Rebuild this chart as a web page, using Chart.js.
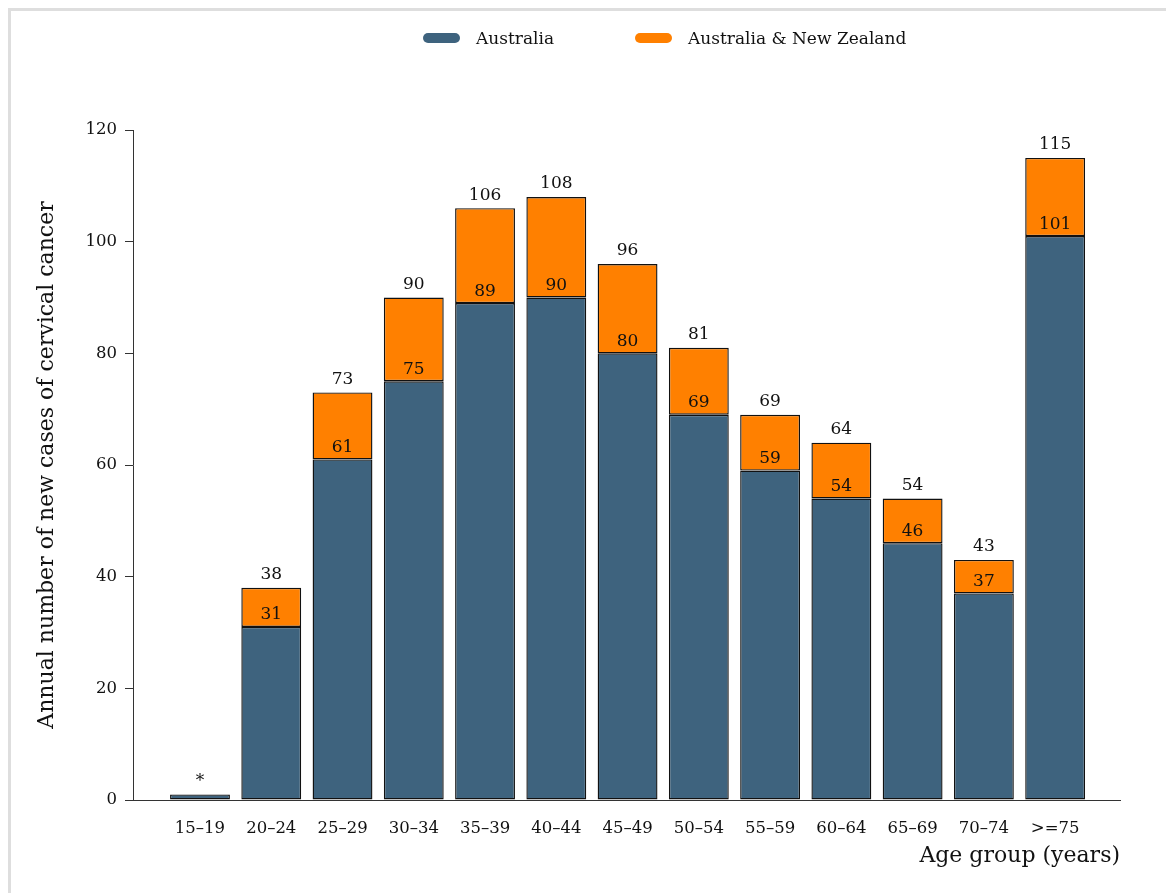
<!DOCTYPE html>
<html>
<head>
<meta charset="utf-8">
<script src="https://cdn.jsdelivr.net/npm/chart.js@4"></script>
<style>
    html, body {
        margin: 0;
        padding: 0;
        background: #fff;
    }

    .frame {
        position: absolute;
        left: 8px;
        top: 8px;
        width: 1200px;
        height: 1000px;
        border-top: 3px solid #dedede;
        border-left: 3px solid #dedede;
    }

    .legend-item {
        position: absolute;
        top: 27px;
        font: 17px "DejaVu Serif", serif;
        color: #111;
        line-height: 22px;
        white-space: nowrap;
    }

    .legend-swatch {
        position: absolute;
        top: 6px;
        width: 37px;
        height: 10px;
        border-radius: 5px;
    }

    #wrap {
        position: absolute;
        left: 0;
        top: 0;
        width: 1166px;
        height: 893px;
    }
</style>
</head>
<body>
<div class="frame"></div>
<div id="wrap"><canvas id="chart"></canvas></div>
<div class="legend-item" style="left: 423px;">
    <span class="legend-swatch" style="left: 0; background: #3e637e;"></span>
    <span style="margin-left: 53px;">Australia</span>
</div>
<div class="legend-item" style="left: 635px;">
    <span class="legend-swatch" style="left: 0; background: #ff8000;"></span>
    <span style="margin-left: 53px;">Australia &amp; New Zealand</span>
</div>
<script>
const ageGroups = ['15–19', '20–24', '25–29', '30–34', '35–39', '40–44', '45–49',
    '50–54', '55–59', '60–64', '65–69', '70–74', '>=75'];

// Australia only
const ausValues = [1, 31, 61, 75, 89, 90, 80, 69, 59, 54, 46, 37, 101];

// Australia & New Zealand combined (bar total)
const totalValues = [1, 38, 73, 90, 106, 108, 96, 81, 69, 64, 54, 43, 115];

// 15-19 total is suppressed in the source
const totalLabels = ['*', '38', '73', '90', '106', '108', '96', '81', '69', '64', '54', '43', '115'];

const yTicks = [0, 20, 40, 60, 80, 100, 120];

const BLUE = '#3e637e';
const ORANGE = '#ff8000';
const SERIF = '"DejaVu Serif", serif';

const ausData = ausValues.map((v, i) => ({ x: i, y: v }));
const nzData = totalValues.map((v, i) => ({ x: i, y: v > ausValues[i] ? v - ausValues[i] : null }));

const barLabels = {
    id: 'barLabels',
    afterDatasetsDraw(chart) {
        const { ctx } = chart;
        const xScale = chart.scales.x;
        const yScale = chart.scales.y;

        ctx.save();
        ctx.font = '17px ' + SERIF;
        ctx.fillStyle = '#111';
        ctx.textAlign = 'center';
        ctx.textBaseline = 'middle';

        totalValues.forEach((total, i) => {
            const x = xScale.getPixelForValue(i);

            ctx.fillText(totalLabels[i], x, yScale.getPixelForValue(total) - 13);

            if (total > ausValues[i]) {
                ctx.fillText(String(ausValues[i]), x, yScale.getPixelForValue(ausValues[i]) - 12);
            }
        });

        ctx.restore();
    },
};

new Chart(document.getElementById('chart'), {
    type: 'bar',
    data: {
        datasets: [
            {
                label: 'Australia',
                data: ausData,
                backgroundColor: BLUE,
                borderColor: '#111',
                borderWidth: 1.4,
                borderSkipped: false,
            },
            {
                label: 'Australia & New Zealand',
                data: nzData,
                backgroundColor: ORANGE,
                borderColor: '#111',
                borderWidth: 1.4,
                borderSkipped: false,
            },
        ],
    },
    options: {
        responsive: true,
        maintainAspectRatio: false,
        animation: false,
        categoryPercentage: 0.84,
        barPercentage: 1,
        layout: {
            padding: { left: 0, right: 46, top: 130, bottom: 0 },
        },
        plugins: {
            legend: { display: false },
            tooltip: { enabled: false },
        },
        scales: {
            x: {
                type: 'linear',
                stacked: true,
                offset: false,
                min: -0.94,
                max: 12.91,
                afterFit(scale) {
                    scale.height = 93;
                },
                afterBuildTicks(scale) {
                    scale.ticks = ageGroups.map((_, i) => ({ value: i }));
                },
                grid: { display: false, drawTicks: false },
                border: { display: true, color: '#333', width: 1 },
                ticks: {
                    autoSkip: false,
                    maxRotation: 0,
                    padding: 19,
                    color: '#111',
                    font: { family: SERIF, size: 16.5 },
                    callback: (value) => ageGroups[value] ?? '',
                },
                title: {
                    display: true,
                    text: 'Age group (years)',
                    align: 'end',
                    color: '#111',
                    font: { family: SERIF, size: 22 },
                    padding: { top: 0, bottom: 24 },
                },
            },
            y: {
                stacked: true,
                min: 0,
                max: 120,
                afterFit(scale) {
                    scale.width = 133;
                },
                afterBuildTicks(scale) {
                    scale.ticks = yTicks.map((v) => ({ value: v }));
                },
                grid: {
                    drawOnChartArea: false,
                    drawTicks: true,
                    tickLength: 8,
                    color: '#333',
                },
                border: { display: true, color: '#333', width: 1 },
                ticks: {
                    padding: 8,
                    color: '#111',
                    font: { family: SERIF, size: 16.5 },
                },
                title: {
                    display: true,
                    text: 'Annual number of new cases of cervical cancer',
                    color: '#111',
                    font: { family: SERIF, size: 22 },
                    padding: { top: 34, bottom: 0 },
                },
            },
        },
    },
    plugins: [barLabels],
});
</script>
</body>
</html>
